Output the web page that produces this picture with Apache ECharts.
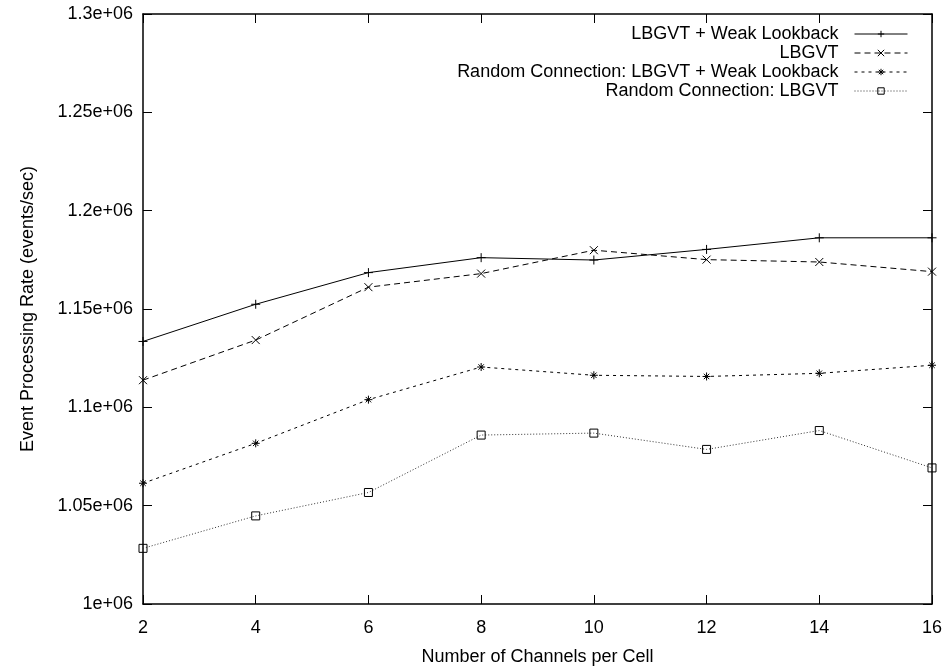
<!DOCTYPE html>
<html>
<head>
<meta charset="utf-8">
<title>Event Processing Rate</title>
<script src="https://cdn.jsdelivr.net/npm/echarts@6/dist/echarts.min.js"></script>
<style>
  html, body { margin: 0; padding: 0; background: #fff; }
  #chart { width: 946px; height: 671px; }
</style>
</head>
<body>
<div id="chart"></div>
<script>
// Channels per cell (x) and event processing rate (events/sec) per configuration
const channels = [2, 4, 6, 8, 10, 12, 14, 16];
const lbgvtWeakLookback = [1133500, 1152400, 1168500, 1176100, 1174900, 1180300, 1186200, 1186200];
const lbgvt = [1113800, 1134200, 1161100, 1168000, 1179900, 1175100, 1173900, 1169000];
const randomLbgvtWeakLookback = [1061400, 1081700, 1103900, 1120500, 1116300, 1115700, 1117300, 1121400];
const randomLbgvt = [1028300, 1044800, 1056700, 1085900, 1086900, 1078600, 1088200, 1069200];

const seriesNames = [
  'LBGVT + Weak Lookback',
  'LBGVT',
  'Random Connection: LBGVT + Weak Lookback',
  'Random Connection: LBGVT'
];
const xTickLabels = ['2', '4', '6', '8', '10', '12', '14', '16'];
const yTickLabels = ['1e+06', '1.05e+06', '1.1e+06', '1.15e+06', '1.2e+06', '1.25e+06', '1.3e+06'];

const FONT = 'Liberation Sans, Arial, Helvetica, sans-serif';
const FONT_SIZE = 18;

// Point glyphs drawn as stroked paths
const SYM_PLUS = 'path://M0,5L10,5M5,0L5,10';
const SYM_CROSS = 'path://M0,0L10,10M10,0L0,10';
const SYM_STAR = 'path://M0,5L10,5M5,0L5,10M1.6,1.6L8.4,8.4M8.4,1.6L1.6,8.4';
const SYM_BOX = 'path://M0,0L10,0L10,10L0,10Z';

function pairs(ys) {
  return channels.map((x, i) => [x, ys[i]]);
}

function makeSeries(name, ys, symbol, size, dash, color) {
  return {
    name: name,
    type: 'line',
    data: pairs(ys),
    symbol: symbol,
    symbolSize: size,
    showSymbol: true,
    lineStyle: { color: color, width: 1, type: dash },
    itemStyle: { color: 'rgba(0,0,0,0)', borderColor: '#000', borderWidth: 1 },
    emphasis: { disabled: true },
    animation: false,
    z: 3
  };
}

const axisLine = { show: true, lineStyle: { color: '#000', width: 1.5 } };
const axisTick = { show: true, inside: true, length: 9, lineStyle: { color: '#000', width: 1 } };
const textBase = { fontFamily: FONT, fontSize: FONT_SIZE, color: '#000' };

const option = {
  backgroundColor: '#fff',
  animation: false,
  grid: { left: 143, right: 14, top: 14, bottom: 63, containLabel: false },
  legend: {
    orient: 'vertical',
    align: 'right',
    right: 33,
    top: 20,
    itemWidth: 53,
    itemHeight: 8,
    itemGap: 1,
    selectedMode: false,
    lineStyle: { width: 1 },
    itemStyle: { color: 'rgba(0,0,0,0)', borderColor: '#000', borderWidth: 1 },
    textStyle: Object.assign({ padding: [0, 11, 0, 0] }, textBase),
    data: seriesNames
  },
  xAxis: [
    {
      type: 'value', min: 2, max: 16, interval: 2, position: 'bottom',
      name: 'Number of Channels per Cell', nameLocation: 'middle', nameGap: 44,
      nameTextStyle: textBase,
      axisLine: axisLine, axisTick: axisTick,
      axisLabel: Object.assign({ margin: 15, formatter: (v, i) => xTickLabels[i] }, textBase),
      splitLine: { show: false }
    },
    {
      type: 'value', min: 2, max: 16, interval: 2, position: 'top',
      axisLine: axisLine, axisTick: axisTick, axisLabel: { show: false },
      splitLine: { show: false }
    }
  ],
  yAxis: [
    {
      type: 'value', min: 1000000, max: 1300000, interval: 50000, position: 'left',
      name: 'Event Processing Rate (events/sec)', nameLocation: 'middle', nameGap: 106,
      nameTextStyle: textBase,
      axisLine: axisLine, axisTick: axisTick,
      axisLabel: Object.assign({ margin: 10, formatter: (v, i) => yTickLabels[i] }, textBase),
      splitLine: { show: false }
    },
    {
      type: 'value', min: 1000000, max: 1300000, interval: 50000, position: 'right',
      axisLine: axisLine, axisTick: axisTick, axisLabel: { show: false },
      splitLine: { show: false }
    }
  ],
  series: [
    makeSeries(seriesNames[0], lbgvtWeakLookback, SYM_PLUS, 9, 'solid', '#000'),
    makeSeries(seriesNames[1], lbgvt, SYM_CROSS, 8, [6, 4], '#000'),
    makeSeries(seriesNames[2], randomLbgvtWeakLookback, SYM_STAR, 8, [3, 4], '#000'),
    makeSeries(seriesNames[3], randomLbgvt, SYM_BOX, 8, [1, 2], '#333')
  ]
};

const chart = echarts.init(document.getElementById('chart'), null, { renderer: 'canvas' });
chart.setOption(option);
</script>
</body>
</html>
